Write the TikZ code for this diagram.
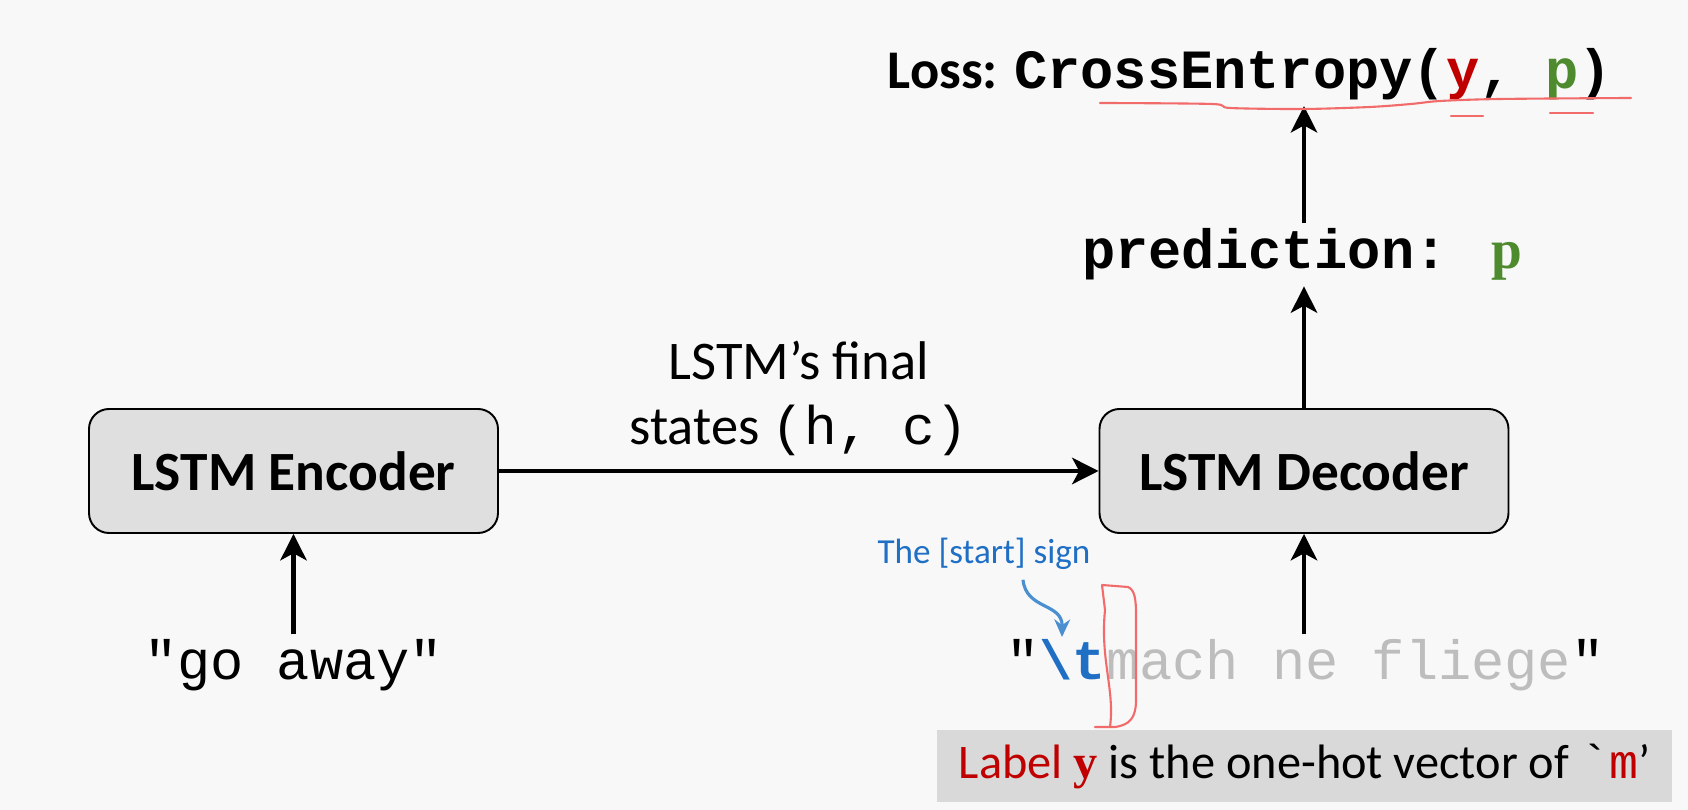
\documentclass[tikz,border=0pt]{standalone}
\usepackage{fontspec}
\setmainfont{Carlito}
\setmonofont{Liberation Mono}
\newfontfamily\serifface{Liberation Serif}
\usetikzlibrary{arrows.meta}
\definecolor{Slide}{HTML}{F8F8F8}
\definecolor{BoxFill}{HTML}{DFDFDF}
\definecolor{Band}{HTML}{D9D9D9}
\definecolor{DarkRed}{HTML}{C00000}
\definecolor{LeafGreen}{HTML}{4E8A2E}
\definecolor{StartBlue}{HTML}{1F6FC5}
\definecolor{HintBlue}{HTML}{4A90D0}
\definecolor{FadeGray}{HTML}{BDBDBD}
\definecolor{PenRed}{HTML}{F26B6B}
\newcommand{\codesize}{\fontsize{31.5}{36}\selectfont}
\tikzset{lstmbox/.style={draw=black,line width=1.1pt,rounded corners=0.4cm,fill=BoxFill,minimum width=8.18cm,minimum height=2.48cm,font=\bfseries\fontsize{31.5}{36}\selectfont},flowarrow/.style={draw=black,line width=2.4pt,-{Stealth[length=15pt,width=15pt,inset=4pt]}},codetext/.style={font=\ttfamily\codesize,inner sep=3pt},penline/.style={draw=PenRed,line width=1.2pt,line cap=round,line join=round},hintarrow/.style={draw=HintBlue,line width=1.8pt,-{Stealth[length=10pt,width=9pt]}}}

\begin{document}
\begin{tikzpicture}[x=1cm,y=1cm]
\useasboundingbox (0,0) rectangle (33.76,16.2);
\fill[Slide] (0,0) rectangle (33.76,16.2);
\node[lstmbox] (enc) at (5.87,6.78) {LSTM Encoder};\node[lstmbox] (dec) at (26.08,6.78) {LSTM Decoder};
\draw[flowarrow] (enc) -- (dec) node[midway,above=4pt,align=center,font=\fontsize{31}{37}\selectfont] (states) {LSTM’s final\\states \texttt{(h, c)}};
\node[codetext,anchor=base] (src) at (5.87,2.6) {"go away"};
\node[codetext,anchor=base] (tgt) at (26.11,2.6) {"{\bfseries\color{StartBlue}\textbackslash t}{\color{FadeGray}mach ne fliege}"};
\node[codetext,anchor=base,font=\ttfamily\bfseries\codesize] (pred) at (26.05,10.82) {prediction:\hspace{0.8em}{\serifface\color{LeafGreen}p}};
\node[anchor=base,inner sep=3pt,font=\bfseries\fontsize{31}{36}\selectfont] (loss) at (25.0,14.42) {Loss: {\ttfamily\codesize CrossEntropy({\color{DarkRed}y}, {\color{LeafGreen}p})}};
\draw[flowarrow] (src) -- (enc);\draw[flowarrow] (dec.south |- tgt.north) -- (dec.south);
\draw[flowarrow] (dec.north) -- (dec.north |- pred.south);\draw[flowarrow] (dec.north |- pred.north) -- (dec.north |- loss.south);
\draw[penline] plot[smooth] coordinates {(22.0,14.14) (24.24,14.12) (24.6,14.04) (26.08,14.02) (27.4,14.06) (28.22,14.12) (28.8,14.18) (30.0,14.22) (32.62,14.24)};
\draw[penline] (29.02,13.88) -- (29.66,13.88);\draw[penline] (31.0,13.94) -- (31.86,13.94);
\draw[penline] (22.04,4.5) -- (22.56,4.46) .. controls (22.7,4.4) and (22.72,4.2) .. (22.72,3.9) -- (22.72,2.2) .. controls (22.72,1.85) and (22.6,1.7) .. (22.3,1.66) -- (21.9,1.66) (22.2,1.66) .. controls (22.3,2.4) and (22.0,3.0) .. (22.1,4.0) -- (22.04,4.5);
\node[text=StartBlue,font=\fontsize{20}{24}\selectfont,anchor=base] (starttag) at (19.68,4.92) {The [start] sign};
\coordinate (tabtip) at (21.24,3.46);
\draw[hintarrow] ([xshift=0.78cm,yshift=-2pt]starttag.south) .. controls (20.52,4.0) and (21.25,4.15) .. (tabtip);
\node[fill=Band,minimum width=14.7cm,minimum height=1.44cm,font=\fontsize{27.5}{32}\selectfont] (note) at (26.09,0.88) {{\color{DarkRed}Label {\serifface\bfseries y}} is the one-hot vector of {\ttfamily\symbol{96}{\color{DarkRed}m}}’};
\end{tikzpicture}
\end{document}
